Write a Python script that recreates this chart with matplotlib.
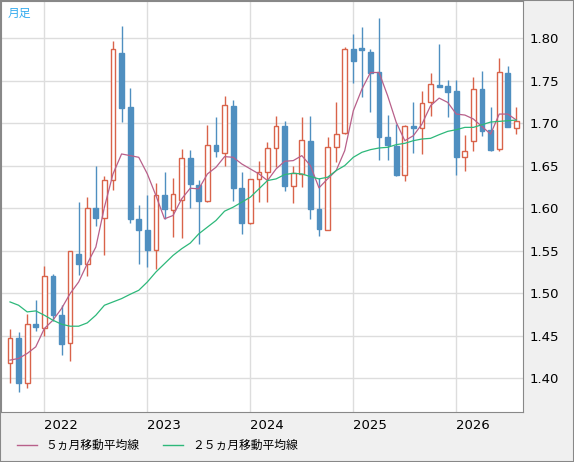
import matplotlib
matplotlib.use("Agg")
import matplotlib.pyplot as plt
import pandas as pd
import numpy as np

months = pd.date_range("2021-09-01", periods=60, freq="MS")
opens = [1.4176,1.4481,1.3949,1.4645,1.4587,1.5208,1.4751,1.4411,1.5467,1.5350,1.6006,1.5885,1.6334,1.7824,1.7194,1.5877,1.5748,1.5513,1.6158,1.5982,
         1.6096,1.6592,1.6280,1.6084,1.6745,1.6655,1.7206,1.6240,1.5826,1.6346,1.6424,1.6710,1.6968,1.6260,1.6408,1.6796,1.5994,1.5748,1.6725,1.6882,
         1.7871,1.7883,1.7840,1.7605,1.6843,1.6733,1.6397,1.6968,1.6940,1.7245,1.7449,1.7441,1.7374,1.6600,1.6788,1.7402,1.6920,1.6698,1.7593,1.6945]
closes = [1.4481,1.3949,1.4645,1.4606,1.5208,1.4751,1.4407,1.5494,1.5350,1.6006,1.5885,1.6334,1.7871,1.7175,1.5869,1.5740,1.5505,1.6158,1.5990,1.6170,
          1.6592,1.6287,1.6084,1.6745,1.6670,1.7214,1.6236,1.5826,1.6346,1.6424,1.6710,1.6968,1.6260,1.6416,1.6804,1.5994,1.5752,1.6725,1.6874,1.7871,
          1.7734,1.7863,1.7590,1.6835,1.6750,1.6397,1.6968,1.6948,1.7238,1.7460,1.7430,1.7363,1.6600,1.6678,1.7402,1.6913,1.6690,1.7605,1.6960,1.7030]
highs = [1.4579,1.4540,1.4762,1.4919,1.5318,1.5224,1.4860,1.5494,1.6080,1.6139,1.6502,1.6385,1.7969,1.8145,1.7414,1.6045,1.6151,1.6295,1.6432,1.6358,
         1.6702,1.6690,1.6338,1.6983,1.7069,1.7324,1.7277,1.6432,1.6346,1.6561,1.6784,1.7090,1.7022,1.6502,1.7069,1.7090,1.6358,1.6835,1.7253,1.7902,
         1.8055,1.8133,1.7871,1.8235,1.7101,1.6991,1.6983,1.7253,1.7378,1.7597,1.7930,1.7507,1.7507,1.6866,1.7546,1.7609,1.7195,1.7773,1.7675,1.7187]
lows = [1.3941,1.3844,1.3883,1.4555,1.4500,1.4673,1.4278,1.4207,1.5212,1.5200,1.5787,1.5447,1.6221,1.7019,1.5826,1.5341,1.5310,1.5290,1.5877,1.5662,
        1.5650,1.6006,1.5584,1.6072,1.6608,1.6502,1.6092,1.5700,1.5818,1.6072,1.6080,1.6483,1.6201,1.6064,1.6248,1.5869,1.5674,1.5740,1.6549,1.6874,
        1.7468,1.7312,1.7136,1.6573,1.6573,1.6385,1.6326,1.6655,1.6639,1.7089,1.7421,1.7078,1.6397,1.6444,1.6678,1.6851,1.6678,1.6678,1.6960,1.6874]
# moving averages (zoom pixel units -> values)
ma5_px = [1080,1075,1060,1040,985,960,925,880,845,790,740,620,520,460,465,470,520,585,655,645,
          595,563,565,520,500,468,470,490,505,520,540,505,482,480,465,495,562,535,510,450,
          330,265,215,215,285,365,420,405,370,315,292,305,340,343,355,378,400,340,340,358]
ma25_px = [905,915,935,932,945,960,972,978,978,968,945,915,905,895,882,870,845,815,790,765,
           745,728,700,680,660,632,620,605,590,565,540,535,522,518,520,528,535,530,510,495,
           470,455,447,442,440,432,428,420,415,413,402,392,387,380,380,372,364,362,360,358]
ma5 = [1.40 + (1135 - p) / 2557.5 for p in ma5_px]
ma25 = [1.40 + (1135 - p) / 2557.5 for p in ma25_px]

UP = "#d9634a"; DN = "#4f8fc0"
fig = plt.figure(figsize=(5.74, 4.62), dpi=100, facecolor="#f0f0f0")
ax = fig.add_axes([1/574, 1-412/462, 522/574, 411/462])
ax.set_facecolor("white")
x = np.arange(len(months))
w = 0.56
for i in x:
    o, c, h, l = opens[i], closes[i], highs[i], lows[i]
    col = UP if c >= o else DN
    ax.vlines(i, l, min(o, c), color=col, lw=1.0, zorder=2)
    ax.vlines(i, max(o, c), h, color=col, lw=1.0, zorder=2)
    if c >= o:
        ax.add_patch(plt.Rectangle((i - w/2, o), w, max(c - o, 0.0008), facecolor="white", edgecolor=col, lw=1.0, zorder=3))
    else:
        ax.add_patch(plt.Rectangle((i - w/2, c), w, max(o - c, 0.0008), facecolor=col, edgecolor=col, lw=1.0, zorder=3))
ax.plot(x, ma5, color="#b8608a", lw=0.9, zorder=4)
ax.plot(x, ma25, color="#2db87a", lw=0.9, zorder=4)

ax.set_xlim(-1.05, 59.77)
ax.set_ylim(1.3605, 1.8438)
yt = [1.40,1.45,1.50,1.55,1.60,1.65,1.70,1.75,1.80]
ax.set_yticks(yt)
ax.yaxis.tick_right()
ax.set_yticklabels([f"{v:.2f}" for v in yt], fontsize=9.5)
jan = [i for i, m in enumerate(months) if m.month == 1]
ax.set_xticks(jan)
ax.set_xticklabels([str(months[i].year) for i in jan], fontsize=9.5, ha="left")
ax.tick_params(length=0, pad=5)
ax.grid(True, color="#dddddd", lw=1)
ax.set_axisbelow(True)
for s in ax.spines.values():
    s.set_color("#888888")
ax.text(0.012, 0.985, "月足", transform=ax.transAxes, color="#33aaee", fontsize=8.5,
        va="top", family=["Noto Sans CJK JP", "DejaVu Sans"])
fig.lines.append(plt.Line2D([17/574, 37/574], [1-445/462]*2, color="#b8608a", lw=1, transform=fig.transFigure))
fig.text(45/574, 1-445/462, "５ヵ月移動平均線", fontsize=8.5, va="center", family=["Noto Sans CJK JP", "DejaVu Sans"])
fig.lines.append(plt.Line2D([163/574, 183/574], [1-445/462]*2, color="#2db87a", lw=1, transform=fig.transFigure))
fig.text(192/574, 1-445/462, "２５ヵ月移動平均線", fontsize=8.5, va="center", family=["Noto Sans CJK JP", "DejaVu Sans"])
fig.patches.append(plt.Rectangle((0, 0), 1, 1, fill=False, edgecolor="#888888", lw=1.5, transform=fig.transFigure))
fig.savefig("out.png", dpi=100, facecolor=fig.get_facecolor())
